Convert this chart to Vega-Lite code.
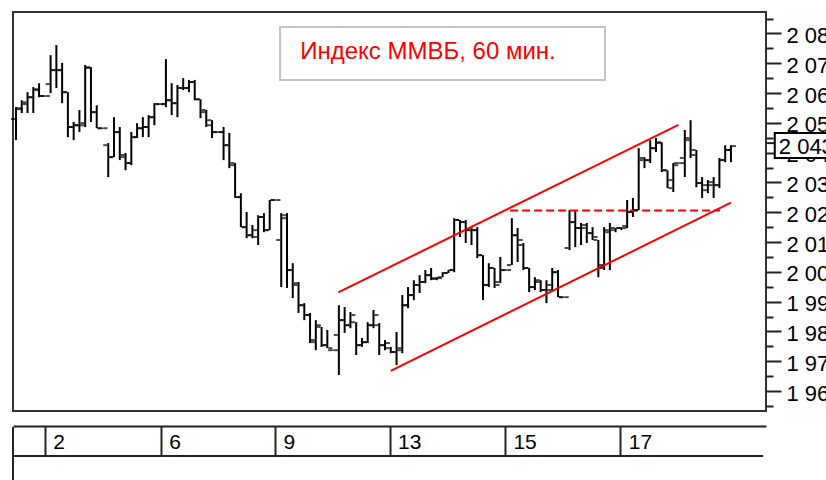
{
  "$schema": "https://vega.github.io/schema/vega-lite/v6.json",
  "width": 753,
  "height": 399,
  "autosize": {"type": "none"},
  "padding": {"left": 13, "top": 12, "right": 60, "bottom": 69},
  "background": "#ffffff",
  "config": {"view": {"stroke": "#333333", "strokeWidth": 2}, "font": "Liberation Sans"},
  "datasets": {
    "bars": [
      {"i":0,"o":2051.3,"h":2055.3,"l":2044.2,"c":2054.9},
      {"i":1,"o":2054.6,"h":2057.6,"l":2053.3,"c":2056.3},
      {"i":2,"o":2056.9,"h":2060.3,"l":2053.3,"c":2058.6},
      {"i":3,"o":2058.6,"h":2062.0,"l":2053.3,"c":2061.0},
      {"i":4,"o":2061.3,"h":2063.3,"l":2058.6,"c":2059.0},
      {"i":5,"o":2059.0,"h":2059.2,"l":2058.8,"c":2059.0},
      {"i":6,"o":2063.0,"h":2072.7,"l":2060.0,"c":2067.7},
      {"i":7,"o":2067.7,"h":2076.1,"l":2061.7,"c":2067.7},
      {"i":8,"o":2067.7,"h":2070.1,"l":2056.6,"c":2060.3},
      {"i":9,"o":2060.3,"h":2060.3,"l":2045.2,"c":2048.6},
      {"i":10,"o":2048.6,"h":2050.3,"l":2044.2,"c":2049.2},
      {"i":11,"o":2049.2,"h":2054.3,"l":2046.9,"c":2049.9},
      {"i":12,"o":2049.2,"h":2069.4,"l":2048.6,"c":2068.7},
      {"i":13,"o":2068.4,"h":2068.7,"l":2050.3,"c":2053.6},
      {"i":14,"o":2053.6,"h":2055.9,"l":2048.2,"c":2048.2},
      {"i":15,"o":2048.2,"h":2048.4,"l":2048.0,"c":2048.2},
      {"i":16,"o":2042.5,"h":2043.2,"l":2031.8,"c":2038.5},
      {"i":17,"o":2038.5,"h":2051.9,"l":2038.5,"c":2046.9},
      {"i":18,"o":2046.9,"h":2048.6,"l":2037.5,"c":2039.2},
      {"i":19,"o":2038.5,"h":2039.9,"l":2034.1,"c":2036.5},
      {"i":20,"o":2036.5,"h":2046.9,"l":2035.8,"c":2045.2},
      {"i":21,"o":2045.2,"h":2049.9,"l":2044.9,"c":2048.2},
      {"i":22,"o":2048.2,"h":2051.9,"l":2045.2,"c":2048.6},
      {"i":23,"o":2048.6,"h":2052.6,"l":2045.2,"c":2051.9},
      {"i":24,"o":2051.9,"h":2056.6,"l":2049.2,"c":2056.3},
      {"i":25,"o":2056.3,"h":2056.5,"l":2056.1,"c":2056.3},
      {"i":26,"o":2056.3,"h":2071.4,"l":2055.3,"c":2057.6},
      {"i":27,"o":2057.6,"h":2063.3,"l":2052.6,"c":2056.6},
      {"i":28,"o":2056.6,"h":2062.7,"l":2051.9,"c":2061.7},
      {"i":29,"o":2061.7,"h":2065.0,"l":2061.0,"c":2061.7},
      {"i":30,"o":2061.7,"h":2064.4,"l":2060.3,"c":2063.7},
      {"i":31,"o":2063.7,"h":2064.4,"l":2057.6,"c":2057.9},
      {"i":32,"o":2057.9,"h":2057.9,"l":2051.6,"c":2054.3},
      {"i":33,"o":2053.6,"h":2054.3,"l":2048.6,"c":2050.9},
      {"i":34,"o":2049.2,"h":2050.9,"l":2044.9,"c":2046.9},
      {"i":35,"o":2046.9,"h":2047.1,"l":2046.7,"c":2046.9},
      {"i":36,"o":2046.9,"h":2048.6,"l":2037.5,"c":2042.5},
      {"i":37,"o":2042.5,"h":2046.6,"l":2034.8,"c":2036.5},
      {"i":38,"o":2035.8,"h":2036.5,"l":2024.8,"c":2025.1},
      {"i":39,"o":2025.1,"h":2026.4,"l":2015.0,"c":2015.0},
      {"i":40,"o":2015.0,"h":2020.1,"l":2011.3,"c":2012.3},
      {"i":41,"o":2012.3,"h":2015.7,"l":2011.3,"c":2014.0},
      {"i":42,"o":2011.7,"h":2019.0,"l":2009.0,"c":2018.4},
      {"i":43,"o":2018.4,"h":2019.7,"l":2013.3,"c":2014.0},
      {"i":44,"o":2014.0,"h":2024.1,"l":2014.0,"c":2024.1},
      {"i":45,"o":2024.1,"h":2024.3,"l":2023.9,"c":2024.1},
      {"i":46,"o":2010.7,"h":2019.7,"l":1994.9,"c":2019.0},
      {"i":47,"o":2018.0,"h":2019.7,"l":1994.6,"c":2000.6},
      {"i":48,"o":2000.6,"h":2002.9,"l":1991.2,"c":1996.2},
      {"i":49,"o":1995.6,"h":1996.6,"l":1986.2,"c":1988.8},
      {"i":50,"o":1988.8,"h":1989.5,"l":1983.8,"c":1985.5},
      {"i":51,"o":1985.5,"h":1986.2,"l":1976.1,"c":1976.4},
      {"i":52,"o":1977.1,"h":1983.8,"l":1973.7,"c":1982.1},
      {"i":53,"o":1981.5,"h":1981.5,"l":1974.8,"c":1975.4},
      {"i":54,"o":1975.4,"h":1980.5,"l":1974.4,"c":1974.4},
      {"i":55,"o":1973.7,"h":1973.9,"l":1973.5,"c":1973.7},
      {"i":56,"o":1978.8,"h":1988.8,"l":1965.4,"c":1983.8},
      {"i":57,"o":1983.8,"h":1988.2,"l":1979.5,"c":1982.1},
      {"i":58,"o":1982.1,"h":1986.5,"l":1981.1,"c":1985.5},
      {"i":59,"o":1983.1,"h":1983.1,"l":1972.1,"c":1975.4},
      {"i":60,"o":1975.4,"h":1977.8,"l":1974.8,"c":1976.4},
      {"i":61,"o":1976.4,"h":1983.1,"l":1976.1,"c":1982.1},
      {"i":62,"o":1982.1,"h":1987.2,"l":1981.1,"c":1985.5},
      {"i":63,"o":1982.1,"h":1982.8,"l":1972.1,"c":1975.4},
      {"i":64,"o":1975.4,"h":1977.1,"l":1973.7,"c":1976.1},
      {"i":65,"o":1974.4,"h":1974.8,"l":1972.7,"c":1973.1},
      {"i":66,"o":1973.1,"h":1979.8,"l":1968.7,"c":1974.4},
      {"i":67,"o":1973.7,"h":1992.2,"l":1972.7,"c":1988.8},
      {"i":68,"o":1988.8,"h":1994.9,"l":1987.8,"c":1992.2},
      {"i":69,"o":1992.2,"h":1997.2,"l":1990.5,"c":1995.6},
      {"i":70,"o":1995.6,"h":1998.9,"l":1992.9,"c":1996.6},
      {"i":71,"o":1996.6,"h":2000.6,"l":1996.2,"c":1998.9},
      {"i":72,"o":1998.9,"h":2001.3,"l":1997.2,"c":1997.9},
      {"i":73,"o":1997.6,"h":1998.2,"l":1997.2,"c":1997.9},
      {"i":74,"o":1998.2,"h":1999.9,"l":1998.2,"c":1999.6},
      {"i":75,"o":1999.6,"h":2000.6,"l":1999.6,"c":2000.6},
      {"i":76,"o":2000.6,"h":2018.0,"l":1999.9,"c":2017.4},
      {"i":77,"o":2017.4,"h":2017.4,"l":2011.7,"c":2016.7},
      {"i":78,"o":2016.7,"h":2017.4,"l":2009.7,"c":2014.0},
      {"i":79,"o":2014.0,"h":2015.0,"l":2009.0,"c":2014.0},
      {"i":80,"o":2014.0,"h":2015.0,"l":2004.6,"c":2005.6},
      {"i":81,"o":2005.6,"h":2005.6,"l":1990.5,"c":1995.6},
      {"i":82,"o":1995.6,"h":2002.9,"l":1994.9,"c":2001.3},
      {"i":83,"o":2001.3,"h":2001.3,"l":1994.6,"c":1995.6},
      {"i":84,"o":1996.6,"h":2005.0,"l":1996.2,"c":2000.6},
      {"i":85,"o":2000.6,"h":2000.8,"l":2000.4,"c":2000.6},
      {"i":86,"o":2002.3,"h":2018.0,"l":2002.3,"c":2012.3},
      {"i":87,"o":2012.3,"h":2014.7,"l":2003.3,"c":2010.7},
      {"i":88,"o":2009.0,"h":2009.7,"l":2000.6,"c":2001.3},
      {"i":89,"o":2001.3,"h":2001.3,"l":1993.2,"c":1994.9},
      {"i":90,"o":1994.9,"h":1998.2,"l":1993.9,"c":1997.2},
      {"i":91,"o":1996.6,"h":1997.2,"l":1993.2,"c":1993.9},
      {"i":92,"o":1993.9,"h":1997.2,"l":1989.5,"c":1993.9},
      {"i":93,"o":1995.6,"h":2001.3,"l":1993.9,"c":1999.9},
      {"i":94,"o":1999.9,"h":2000.6,"l":1991.5,"c":1991.5},
      {"i":95,"o":1991.5,"h":1991.7,"l":1991.3,"c":1991.5},
      {"i":96,"o":2008.0,"h":2020.7,"l":2007.3,"c":2016.7},
      {"i":97,"o":2016.7,"h":2020.7,"l":2008.3,"c":2014.7},
      {"i":98,"o":2014.7,"h":2016.4,"l":2009.0,"c":2015.7},
      {"i":99,"o":2014.7,"h":2016.4,"l":2009.7,"c":2013.0},
      {"i":100,"o":2013.0,"h":2015.0,"l":2010.7,"c":2011.7},
      {"i":101,"o":2010.7,"h":2010.7,"l":1998.2,"c":2001.3},
      {"i":102,"o":2002.3,"h":2015.0,"l":2000.6,"c":2013.3},
      {"i":103,"o":2014.0,"h":2016.4,"l":2000.6,"c":2014.7},
      {"i":104,"o":2014.0,"h":2014.7,"l":2013.3,"c":2014.7},
      {"i":105,"o":2014.7,"h":2015.0,"l":2014.0,"c":2014.7},
      {"i":106,"o":2015.4,"h":2024.1,"l":2014.7,"c":2020.1},
      {"i":107,"o":2020.1,"h":2024.8,"l":2018.4,"c":2020.7},
      {"i":108,"o":2020.7,"h":2041.5,"l":2020.7,"c":2038.2},
      {"i":109,"o":2037.5,"h":2038.5,"l":2034.8,"c":2037.5},
      {"i":110,"o":2037.5,"h":2044.2,"l":2036.5,"c":2041.5},
      {"i":111,"o":2041.5,"h":2044.9,"l":2040.2,"c":2043.5},
      {"i":112,"o":2043.2,"h":2043.5,"l":2033.5,"c":2034.1},
      {"i":113,"o":2034.1,"h":2034.1,"l":2028.1,"c":2030.8},
      {"i":114,"o":2028.1,"h":2036.5,"l":2026.8,"c":2035.8},
      {"i":115,"o":2036.5,"h":2036.7,"l":2036.3,"c":2036.5},
      {"i":116,"o":2038.2,"h":2047.6,"l":2031.8,"c":2044.2},
      {"i":117,"o":2044.9,"h":2050.9,"l":2038.2,"c":2040.9},
      {"i":118,"o":2039.2,"h":2040.9,"l":2028.4,"c":2029.8},
      {"i":119,"o":2029.8,"h":2031.8,"l":2024.8,"c":2029.1},
      {"i":120,"o":2027.4,"h":2030.8,"l":2026.4,"c":2030.1},
      {"i":121,"o":2029.1,"h":2031.8,"l":2024.8,"c":2029.1},
      {"i":122,"o":2029.1,"h":2038.2,"l":2028.1,"c":2037.5},
      {"i":123,"o":2037.5,"h":2042.5,"l":2036.8,"c":2040.9},
      {"i":124,"o":2040.9,"h":2042.5,"l":2036.8,"c":2042.2}
    ],
    "channel": [
      {"name":"upper","x":55.9,"y":1993.1},
      {"name":"upper","x":114.9,"y":2049.3},
      {"name":"lower","x":65.0,"y":1966.8},
      {"name":"lower","x":124.0,"y":2023.2}
    ],
    "dash": [
      {"x":85.7,"y":2020.6},
      {"x":122.1,"y":2020.6}
    ],
    "titlebox": [
      {"x":45.8,"x2":102.15,"y":2082.2,"y2":2064.4,"xt":71.45,"yt":2073.9,"label":"Индекс ММВБ, 60 мин."}
    ],
    "strip": [
      {"x":-0.52,"x2":-0.52,"y":1947.9,"y2":1929.0},
      {"x":-0.52,"x2":129.6,"y":1938.2,"y2":1938.2}
    ],
    "price": [
      {"x":131.6,"x2":142.0,"y":2046.6,"y2":2038.2,"xc":130.08,"yc":2043.2,"xt":132.3,"yt":2042.0,"label":"2 043"}
    ]
  },
  "layer": [
    {
      "data": {"name": "bars"},
      "mark": {"type": "rule", "color": "#000000", "strokeWidth": 2},
      "encoding": {
        "x": {"field": "i", "type": "quantitative", "scale": {"domain": [-0.52, 130.08], "nice": false, "zero": false},
          "axis": {"orient": "bottom", "offset": 15, "values": [5.0, 25.1, 44.9, 64.8, 84.8, 104.8], "tickCount": 200, "grid": false, "title": null,
            "domain": true, "domainColor": "#222222", "domainWidth": 2,
            "ticks": true, "tickSize": 29, "tickWidth": 2, "tickColor": "#222222",
            "labelExpr": "datum.value < 10 ? '2' : datum.value < 30 ? '6' : datum.value < 50 ? '9' : datum.value < 70 ? '13' : datum.value < 90 ? '15' : '17'",
            "labelAlign": "left", "labelBaseline": "middle", "labelPadding": -13, "labelOffset": 8,
            "labelFont": "Liberation Sans", "labelFontSize": 21, "labelColor": "#000000", "labelOverlap": false, "labelFlush": false, "labelBound": false}},
        "y": {"field": "l", "type": "quantitative", "scale": {"domain": [1953.3, 2087.2], "nice": false, "zero": false},
          "axis": {"orient": "right", "values": [1955,1960,1965,1970,1975,1980,1985,1990,1995,2000,2005,2010,2015,2020,2025,2030,2035,2040,2045,2050,2055,2060,2065,2070,2075,2080,2085],
            "tickCount": 200, "domain": false, "grid": false, "title": null,
            "tickColor": "#222222", "tickWidth": 2,
            "tickSize": {"condition": {"test": "datum.value % 10 === 0", "value": 15}, "value": 7},
            "labelExpr": "datum.value % 10 === 0 ? (floor(datum.value / 1000) + ' ' + format(datum.value % 1000, '03d')) : ''",
            "labelFont": "Liberation Sans", "labelFontSize": 22, "labelColor": "#000000", "labelPadding": 5, "labelOffset": 2,
            "labelBaseline": "middle", "labelAlign": "left", "labelOverlap": false, "labelFlush": false, "labelBound": false}},
        "y2": {"field": "h"}
      }
    },
    {
      "data": {"name": "titlebox"},
      "mark": {"type": "rect", "fill": "#ffffff", "stroke": "#c4c4c4", "strokeWidth": 2},
      "encoding": {
        "x": {"field": "x", "type": "quantitative"},
        "x2": {"field": "x2"},
        "y": {"field": "y", "type": "quantitative"},
        "y2": {"field": "y2"}
      }
    },
    {
      "data": {"name": "titlebox"},
      "mark": {"type": "text", "color": "#ff0000", "font": "Liberation Sans", "fontSize": 24, "align": "center", "baseline": "middle"},
      "encoding": {
        "x": {"field": "xt", "type": "quantitative"},
        "y": {"field": "yt", "type": "quantitative"},
        "text": {"field": "label"}
      }
    },
    {
      "data": {"name": "channel"},
      "mark": {"type": "line", "color": "#ff0000", "strokeWidth": 2},
      "encoding": {
        "x": {"field": "x", "type": "quantitative"},
        "y": {"field": "y", "type": "quantitative"},
        "detail": {"field": "name"}
      }
    },
    {
      "data": {"name": "dash"},
      "mark": {"type": "line", "color": "#ff0000", "strokeWidth": 2, "strokeDash": [8, 4]},
      "encoding": {
        "x": {"field": "x", "type": "quantitative"},
        "y": {"field": "y", "type": "quantitative"}
      }
    },
    {
      "data": {"name": "bars"},
      "mark": {"type": "tick", "orient": "horizontal", "color": "#000000", "size": 4, "thickness": 2, "xOffset": -3},
      "encoding": {
        "x": {"field": "i", "type": "quantitative"},
        "y": {"field": "o", "type": "quantitative"}
      }
    },
    {
      "data": {"name": "bars"},
      "mark": {"type": "tick", "orient": "horizontal", "color": "#000000", "size": 4, "thickness": 2, "xOffset": 3},
      "encoding": {
        "x": {"field": "i", "type": "quantitative"},
        "y": {"field": "c", "type": "quantitative"}
      }
    },
    {
      "data": {"name": "strip"},
      "mark": {"type": "rule", "color": "#222222", "strokeWidth": 2},
      "encoding": {
        "x": {"field": "x", "type": "quantitative"},
        "x2": {"field": "x2"},
        "y": {"field": "y", "type": "quantitative"},
        "y2": {"field": "y2"}
      }
    },
    {
      "data": {"name": "price"},
      "mark": {"type": "rule", "color": "#222222", "strokeWidth": 2},
      "encoding": {
        "x": {"field": "xc", "type": "quantitative"},
        "x2": {"field": "x"},
        "y": {"field": "yc", "type": "quantitative"}
      }
    },
    {
      "data": {"name": "price"},
      "mark": {"type": "rect", "fill": "#ffffff", "stroke": "#000000", "strokeWidth": 2},
      "encoding": {
        "x": {"field": "x", "type": "quantitative"},
        "x2": {"field": "x2"},
        "y": {"field": "y", "type": "quantitative"},
        "y2": {"field": "y2"}
      }
    },
    {
      "data": {"name": "price"},
      "mark": {"type": "text", "color": "#000000", "font": "Liberation Sans", "fontSize": 22, "align": "left", "baseline": "middle"},
      "encoding": {
        "x": {"field": "xt", "type": "quantitative"},
        "y": {"field": "yt", "type": "quantitative"},
        "text": {"field": "label"}
      }
    }
  ]
}
